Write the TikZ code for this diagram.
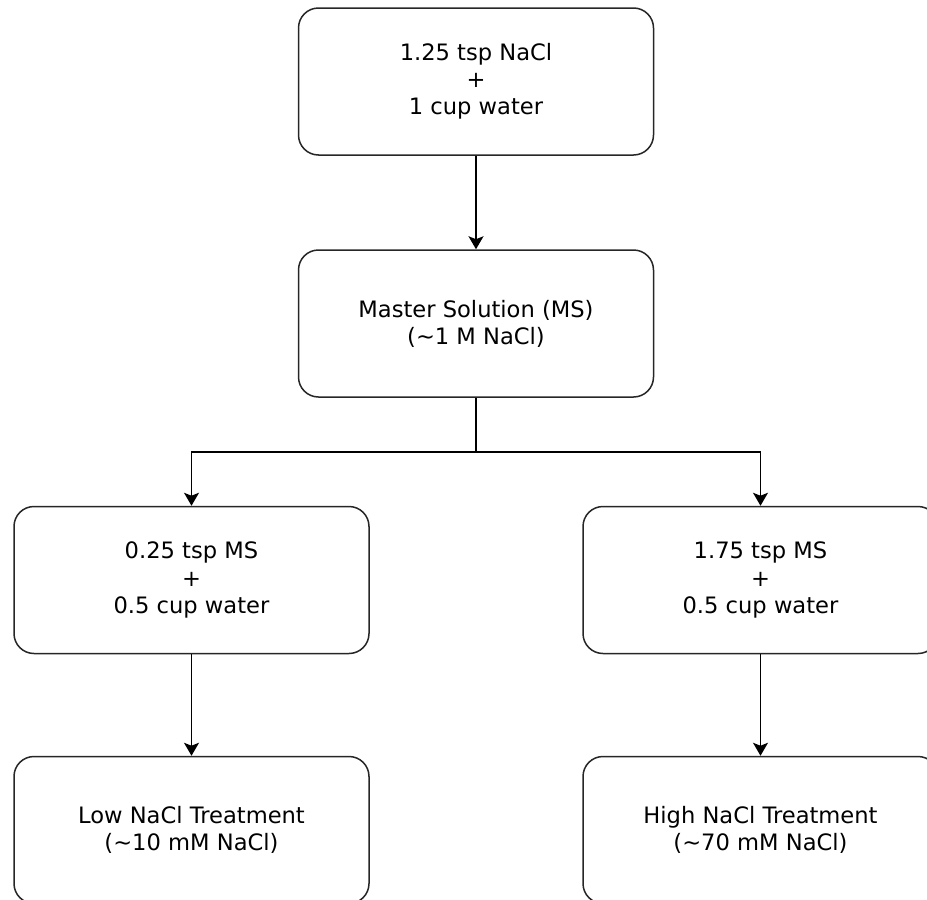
\documentclass[tikz,border=0pt]{standalone}
\usepackage{fontspec}
\setmainfont{DejaVu Sans}
\usetikzlibrary{arrows.meta}

\begin{document}
\begin{tikzpicture}[x=0.5pt,y=-0.5pt]
\useasboundingbox (0,0) rectangle (927,900);

\tikzset{StepBox/.style={rectangle, rounded corners=10pt, draw=black!85, line width=0.75pt,
    minimum width=177.5pt, minimum height=73.5pt, align=center,
    font=\fontsize{11.3}{13.6}\selectfont}}

\begin{scope}[every node/.style={StepBox}]
    % Stock solution
    \node (A) at (476,81.5) {1.25 tsp NaCl\\+\\1 cup water};
    \node (B) at (476,323.5) {Master Solution (MS)\\(\textasciitilde1 M NaCl)};

    % Dilutions
    \node (C) at (191.5,580) {0.25 tsp MS\\+\\0.5 cup water};
    \node (D) at (760.5,580) {1.75 tsp MS\\+\\0.5 cup water};

    % Treatments
    \node (E) at (191.5,830) {Low NaCl Treatment\\(\textasciitilde10 mM NaCl)};
    \node (F) at (760.5,830) {High NaCl Treatment\\(\textasciitilde70 mM NaCl)};
\end{scope}

\coordinate (split) at (476,452);

\begin{scope}[>={Stealth[length=6.5pt,width=7.5pt,inset=1.5pt]},
              every edge/.style={draw,line width=0.75pt}]
    \path [->] (A) edge (B);
    \path [-] (B) edge (split);
    \draw [->,line width=0.75pt] (split) -| (C);
    \draw [->,line width=0.75pt] (split) -| (D);
    \path [->] (C) edge (E);
    \path [->] (D) edge (F);
\end{scope}

\end{tikzpicture}
\end{document}
